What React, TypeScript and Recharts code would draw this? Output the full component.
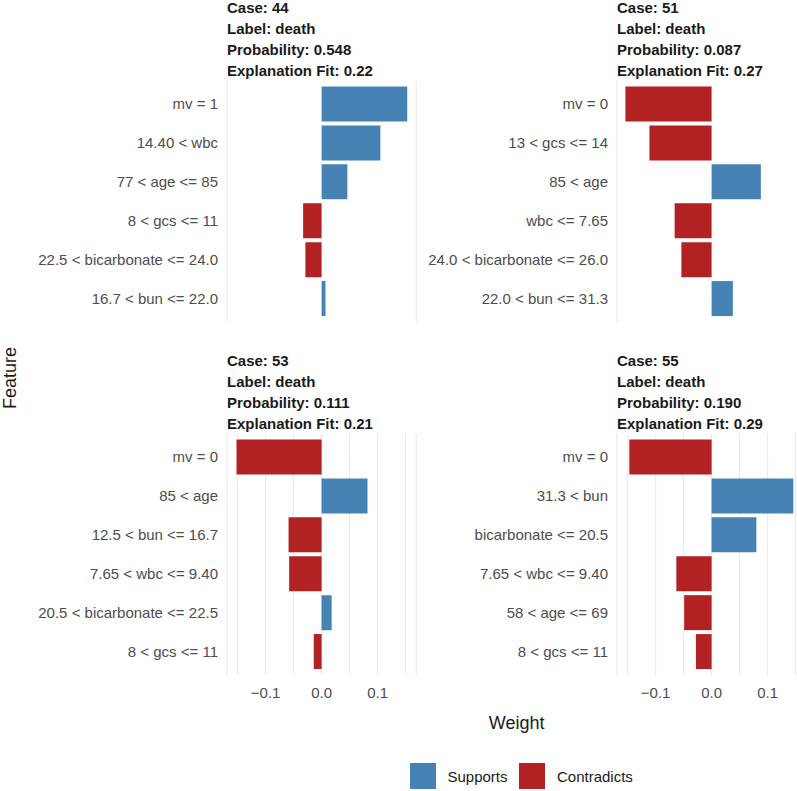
import React from 'react';
import { BarChart, Bar, XAxis, YAxis, CartesianGrid, Cell } from 'recharts';

const caseIds = ['44', '51', '53', '55'];
const caseLabels = ['death', 'death', 'death', 'death'];
const caseProbabilities = ['0.548', '0.087', '0.111', '0.190'];
const caseFits = ['0.22', '0.27', '0.21', '0.29'];

const case44Features = ['mv = 1', '14.40 < wbc', '77 < age <= 85', '8 < gcs <= 11', '22.5 < bicarbonate <= 24.0', '16.7 < bun <= 22.0'];
const case44Weights = [0.153, 0.105, 0.046, -0.033, -0.029, 0.007];

const case51Features = ['mv = 0', '13 < gcs <= 14', '85 < age', 'wbc <= 7.65', '24.0 < bicarbonate <= 26.0', '22.0 < bun <= 31.3'];
const case51Weights = [-0.154, -0.111, 0.088, -0.066, -0.054, 0.038];

const case53Features = ['mv = 0', '85 < age', '12.5 < bun <= 16.7', '7.65 < wbc <= 9.40', '20.5 < bicarbonate <= 22.5', '8 < gcs <= 11'];
const case53Weights = [-0.152, 0.082, -0.059, -0.058, 0.018, -0.014];

const case55Features = ['mv = 0', '31.3 < bun', 'bicarbonate <= 20.5', '7.65 < wbc <= 9.40', '58 < age <= 69', '8 < gcs <= 11'];
const case55Weights = [-0.147, 0.146, 0.080, -0.063, -0.049, -0.028];

const gridTicks = [-0.15, -0.1, -0.05, 0, 0.05, 0.1, 0.15];
const labelledTicks = [-0.1, 0, 0.1];
const labelledTickText = ['\u22120.1', '0.0', '0.1'];

const legendNames = ['Supports', 'Contradicts'];

const BLUE = '#4682B4';
const RED = '#B22222';
const FONT = '"Liberation Sans", Arial, Helvetica, sans-serif';

const formatTick = (v: number) => {
  const i = labelledTicks.findIndex((t) => Math.abs(t - v) < 1e-9);
  return i >= 0 ? labelledTickText[i] : '';
};

type PanelProps = {
  idx: number;
  features: string[];
  weights: number[];
  left: number;
  top: number;
  showTicks: boolean;
};

const Panel = ({ idx, features, weights, left, top, showTicks }: PanelProps) => {
  const data = features.map((f, i) => ({ feature: f, weight: weights[i] }));
  return (
    <div style={{ position: 'absolute', left, top, width: 420, height: 352 }}>
      <BarChart
        layout="vertical"
        width={420}
        height={352}
        data={data}
        margin={{ top: 80.5, right: 3.8, bottom: 0, left: 0 }}
      >
        <CartesianGrid horizontal={false} stroke="#ebebeb" strokeWidth={1.2} />
        <XAxis
          type="number"
          dataKey="weight"
          domain={[-0.169, 0.169]}
          allowDataOverflow
          ticks={gridTicks}
          interval={0}
          tickFormatter={formatTick}
          axisLine={false}
          tickLine={false}
          tickSize={0}
          tickMargin={12}
          height={30}
          tick={showTicks ? { fontSize: 15, fill: '#4d4d4d' } : false}
        />
        <YAxis
          type="category"
          dataKey="feature"
          width={227}
          interval={0}
          axisLine={false}
          tickLine={false}
          tickSize={0}
          tickMargin={9}
          padding={{ top: 4, bottom: 4 }}
          tick={{ fontSize: 15, fill: '#4d4d4d' }}
        />
        <Bar dataKey="weight" barSize={35} isAnimationActive={false}>
          {data.map((d, i) => (
            <Cell key={`c-${i}`} fill={d.weight >= 0 ? BLUE : RED} />
          ))}
        </Bar>
      </BarChart>
      <div
        style={{
          position: 'absolute',
          left: 227,
          top: -3.5,
          fontSize: 15,
          lineHeight: '21px',
          fontWeight: 'bold',
          color: '#1a1a1a',
          whiteSpace: 'nowrap',
        }}
      >
        <div>Case: {caseIds[idx]}</div>
        <div>Label: {caseLabels[idx]}</div>
        <div>Probability: {caseProbabilities[idx]}</div>
        <div>Explanation Fit: {caseFits[idx]}</div>
      </div>
    </div>
  );
};

export default function App() {
  return (
    <div
      style={{
        position: 'absolute',
        left: 0,
        top: 0,
        width: 797,
        height: 791,
        overflow: 'hidden',
        background: '#fff',
        fontFamily: FONT,
      }}
    >
      <Panel idx={0} features={case44Features} weights={case44Weights} left={0} top={0} showTicks={false} />
      <Panel idx={1} features={case51Features} weights={case51Weights} left={390} top={0} showTicks={false} />
      <Panel idx={2} features={case53Features} weights={case53Weights} left={0} top={353} showTicks />
      <Panel idx={3} features={case55Features} weights={case55Weights} left={390} top={353} showTicks />

      <div
        style={{
          position: 'absolute',
          left: 9.5,
          top: 378,
          transform: 'translate(-50%, -50%) rotate(-90deg)',
          fontSize: 18,
          lineHeight: '18px',
          color: '#1a1a1a',
          whiteSpace: 'nowrap',
        }}
      >
        Feature
      </div>
      <div
        style={{
          position: 'absolute',
          left: 516.7,
          top: 723,
          transform: 'translate(-50%, -50%)',
          fontSize: 18,
          color: '#1a1a1a',
          whiteSpace: 'nowrap',
        }}
      >
        Weight
      </div>

      {legendNames.map((name, i) => (
        <div key={name}>
          <div
            style={{
              position: 'absolute',
              left: i === 0 ? 410 : 519,
              top: 763,
              width: 26,
              height: 26,
              background: i === 0 ? BLUE : RED,
            }}
          />
          <div
            style={{
              position: 'absolute',
              left: i === 0 ? 447.5 : 557,
              top: 776,
              transform: 'translateY(-50%)',
              fontSize: 15,
              color: '#1a1a1a',
              whiteSpace: 'nowrap',
            }}
          >
            {name}
          </div>
        </div>
      ))}
    </div>
  );
}
